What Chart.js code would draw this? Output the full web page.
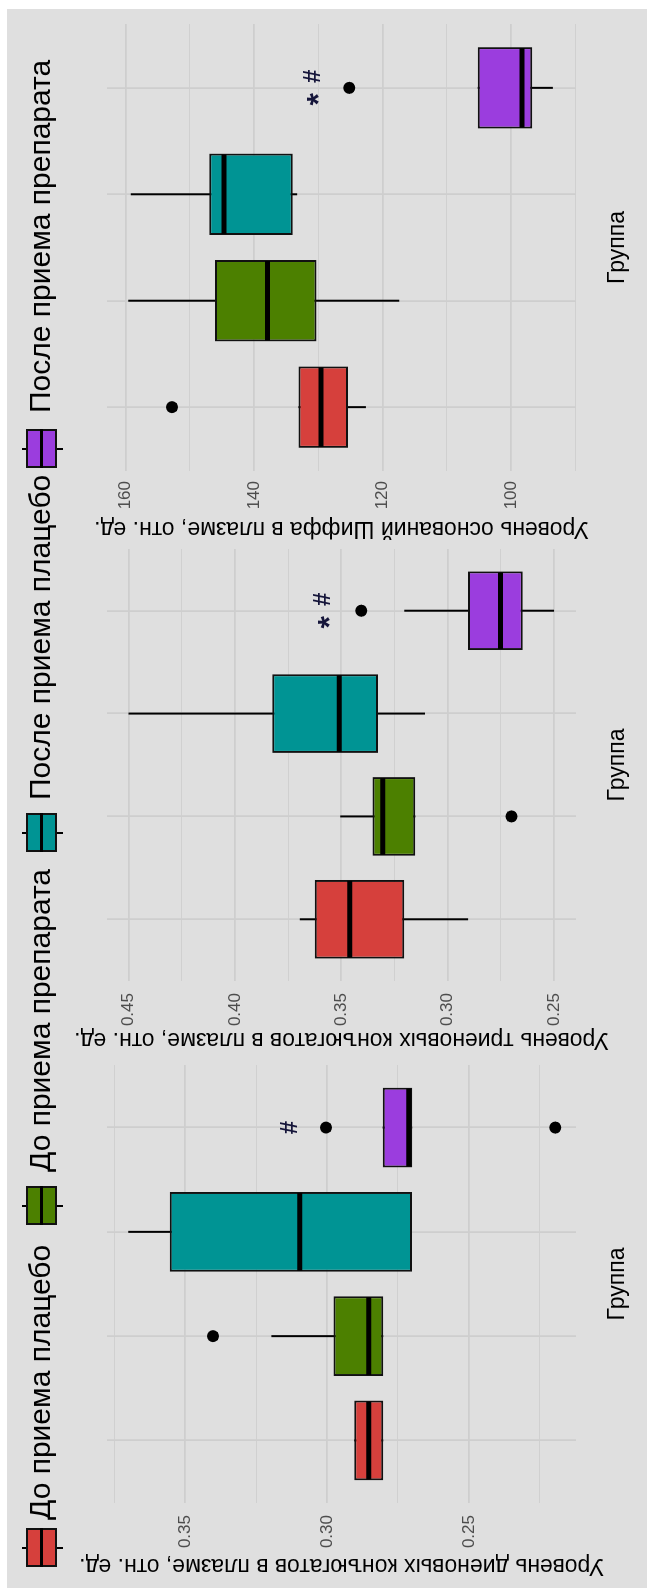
<!DOCTYPE html>
<html>
<head>
<meta charset="utf-8">
<script src="https://cdn.jsdelivr.net/npm/chart.js@4.4.1/dist/chart.umd.min.js"></script>
<style>
  body { margin: 0; background: #fff; width: 647px; height: 1588px; overflow: hidden;
         font-family: "Liberation Sans", Arial, sans-serif; }
  /* the plot is laid out landscape and turned a quarter left */
  #plot { position: absolute; left: 0; top: 0; width: 1588px; height: 647px; background: #dfdfdf;
          transform-origin: 0 0; transform: translate(0px, 1588px) rotate(-90deg); }
  #plot canvas { position: absolute; top: 0; }
  .strip { position: absolute; background: #fff; }
  .key { position: absolute; top: 22px; width: 39px; height: 41px; }
  .key .wh { position: absolute; left: 18px; top: 0; width: 2px; height: 41px; background: #000; }
  .key .bx { position: absolute; left: 0; top: 4px; width: 39px; height: 31px; box-sizing: border-box;
             border: 2px solid #111; }
  .key .md { position: absolute; left: 0; top: 18px; width: 39px; height: 3px; background: #000; }
  .lab { position: absolute; top: 24px; font-size: 30px; line-height: 32px; white-space: nowrap; color: #000; }
</style>
</head>
<body>
<div id="plot">
  <div class="strip" style="left:0;top:0;width:1588px;height:7px"></div>
  <div class="strip" style="left:1579px;top:0;width:9px;height:647px"></div>
  <canvas id="dienChart" width="529" height="647" style="left:0px"></canvas>
  <canvas id="trienChart" width="516" height="647" style="left:529px"></canvas>
  <canvas id="schiffChart" width="543" height="647" style="left:1045px"></canvas>
</div>
<script>
// groups (same for all three panels)
const groups = ['До приема плацебо', 'До приема препарата', 'После приема плацебо', 'После приема препарата'];
const groupColors = ['#D6403C', '#4C8000', '#009494', '#9B3DDE'];

// diene conjugates
const dienLow  = [0.2802, 0.2802, 0.2701, 0.2700];
const dienQ1   = [0.2802, 0.2802, 0.2701, 0.2700];
const dienMed  = [0.2853, 0.2853, 0.3096, 0.2712];
const dienQ3   = [0.2904, 0.2977, 0.3554, 0.2804];
const dienHigh = [0.2904, 0.3196, 0.3700, 0.2804];
const dienOut  = [[2, 0.3402], [4, 0.3004], [4, 0.2196]];
const dienNotes = [[4, 0.3128, '#']];
const dienRange = [0.2123, 0.3775];
const dienTicks = [0.225, 0.25, 0.275, 0.30, 0.325, 0.35, 0.375];
const dienTickLabels = ['', '0.25', '', '0.30', '', '0.35', ''];

// triene conjugates
const trienLow  = [0.2904, 0.3152, 0.3107, 0.2500];
const trienQ1   = [0.3204, 0.3152, 0.3328, 0.2647];
const trienMed  = [0.3460, 0.3305, 0.3509, 0.2752];
const trienQ3   = [0.3625, 0.3353, 0.3825, 0.2904];
const trienHigh = [0.3695, 0.3505, 0.4500, 0.3204];
const trienOut  = [[2, 0.2700], [4, 0.3406]];
const trienNotes = [[4, 0.3582, '*#']];
const trienRange = [0.2397, 0.4601];
const trienTicks = [0.25, 0.275, 0.30, 0.325, 0.35, 0.375, 0.40, 0.425, 0.45];
const trienTickLabels = ['0.25', '', '0.30', '', '0.35', '', '0.40', '', '0.45'];

// Schiff bases
const schiffLow  = [122.6, 117.4, 133.3, 93.5];
const schiffQ1   = [125.4, 130.3, 134.0, 96.7];
const schiffMed  = [129.6, 137.9, 144.7, 98.3];
const schiffQ3   = [133.1, 146.1, 147.0, 105.2];
const schiffHigh = [133.1, 159.6, 159.2, 105.2];
const schiffOut  = [[1, 152.8], [4, 125.2]];
const schiffNotes = [[4, 130.8, '*#']];
const schiffRange = [89.9, 162.9];
const schiffTicks = [90, 100, 110, 120, 130, 140, 150, 160];
const schiffTickLabels = ['', '100', '', '120', '', '140', '', '160'];

Chart.defaults.font.family = '"Liberation Sans", Arial, sans-serif';

const gridColor = '#cecece';
const groupPos = groups.map((g, i) => i + 1);

// legend, drawn as plain html above the panels
const legendKeyX = [21, 363, 736, 1120];
const legendTextX = [68, 416, 788, 1175];
const plot = document.getElementById('plot');
groups.forEach((g, i) => {
    const key = document.createElement('div');
    key.className = 'key';
    key.style.left = legendKeyX[i] + 'px';
    key.innerHTML = '<div class="wh"></div><div class="bx" style="background:' + groupColors[i] +
                    '"></div><div class="md"></div>';
    plot.appendChild(key);
    const lab = document.createElement('div');
    lab.className = 'lab';
    lab.style.left = legendTextX[i] + 'px';
    lab.textContent = g;
    plot.appendChild(lab);
});

// whiskers behind the boxes, medians and marks on top
function boxParts(low, med, high, notes) {
    return {
        id: 'boxParts',
        beforeDatasetsDraw(chart) {
            const ctx = chart.ctx, y = chart.scales.y;
            const bars = chart.getDatasetMeta(0).data;
            ctx.save();
            ctx.strokeStyle = '#000';
            ctx.lineWidth = 2;
            bars.forEach((bar, i) => {
                ctx.beginPath();
                ctx.moveTo(bar.x, y.getPixelForValue(low[i]));
                ctx.lineTo(bar.x, y.getPixelForValue(high[i]));
                ctx.stroke();
            });
            ctx.restore();
        },
        afterDatasetsDraw(chart) {
            const ctx = chart.ctx, x = chart.scales.x, y = chart.scales.y;
            const bars = chart.getDatasetMeta(0).data;
            ctx.save();
            ctx.strokeStyle = '#000';
            ctx.lineWidth = 5;
            bars.forEach((bar, i) => {
                const py = y.getPixelForValue(med[i]);
                ctx.beginPath();
                ctx.moveTo(bar.x - bar.width / 2 + 1, py);
                ctx.lineTo(bar.x + bar.width / 2 - 1, py);
                ctx.stroke();
            });
            ctx.fillStyle = '#15153a';
            ctx.textAlign = 'center';
            ctx.textBaseline = 'middle';
            notes.forEach(n => {
                const px = x.getPixelForValue(n[0]);
                const py = y.getPixelForValue(n[1]);
                const chars = n[2].split('');
                chars.forEach((c, k) => {
                    const cx = px + (k - (chars.length - 1) / 2) * 23;
                    if (c === '*') {
                        ctx.font = 'bold 32px "Liberation Sans"';
                        ctx.fillText(c, cx, py + 7);
                    } else {
                        ctx.font = 'bold 24px "Liberation Sans"';
                        ctx.fillText(c, cx, py);
                    }
                });
            });
            ctx.restore();
        }
    };
}

function makePanel(id, p) {
    new Chart(document.getElementById(id), {
        type: 'bar',
        data: {
            datasets: [{
                label: 'box',
                data: groupPos.map((gx, i) => ({ x: gx, y: [p.q1[i], p.q3[i]] })),
                backgroundColor: groupColors,
                borderColor: '#111',
                borderWidth: 2,
                borderSkipped: false,
                barPercentage: 0.765,
                categoryPercentage: 1
            }, {
                type: 'scatter',
                label: 'outliers',
                data: p.out.map(o => ({ x: o[0], y: o[1] })),
                pointRadius: 6,
                pointBackgroundColor: '#000',
                pointBorderWidth: 0
            }]
        },
        options: {
            responsive: false,
            animation: false,
            devicePixelRatio: 1,
            layout: { padding: { top: 107, right: p.padRight, bottom: 0, left: 0 } },
            plugins: { legend: { display: false }, tooltip: { enabled: false } },
            scales: {
                x: {
                    type: 'linear', min: 0.4, max: 4.6, offset: false,
                    afterBuildTicks: s => { s.ticks = groupPos.map(v => ({ value: v })); },
                    afterFit: s => { s.height = 71; },
                    ticks: { display: false },
                    grid: { color: gridColor, lineWidth: 1.8, offset: false, drawTicks: false },
                    border: { display: false },
                    title: { display: true, text: 'Группа', color: '#000', font: { size: 23 },
                             padding: { top: 0, bottom: 16 } }
                },
                y: {
                    min: p.range[0], max: p.range[1],
                    afterBuildTicks: s => { s.ticks = p.ticks.map(v => ({ value: v })); },
                    afterFit: s => { s.width = p.axisW; },
                    ticks: { autoSkip: false, padding: p.tickPad, color: '#4d4d4d', font: { size: 17 },
                             callback: (v, i) => p.tickLabels[i] },
                    grid: { color: gridColor, drawTicks: false,
                            lineWidth: c => (p.tickLabels[c.index] ? 1.8 : 0.9) },
                    border: { display: false },
                    title: { display: true, text: p.title, color: '#000', font: { size: 23 },
                             padding: { top: p.titlePad, bottom: 0 } }
                }
            }
        },
        plugins: [boxParts(p.low, p.med, p.high, p.notes)]
    });
}

makePanel('dienChart', {
    q1: dienQ1, q3: dienQ3, low: dienLow, med: dienMed, high: dienHigh, out: dienOut, notes: dienNotes,
    range: dienRange, ticks: dienTicks, tickLabels: dienTickLabels,
    title: 'Уровень диеновых конъюгатов в плазме, отн. ед.',
    axisW: 85, padRight: 3, titlePad: 9, tickPad: 12
});
makePanel('trienChart', {
    q1: trienQ1, q3: trienQ3, low: trienLow, med: trienMed, high: trienHigh, out: trienOut, notes: trienNotes,
    range: trienRange, ticks: trienTicks, tickLabels: trienTickLabels,
    title: 'Уровень триеновых конъюгатов в плазме, отн. ед.',
    axisW: 78, padRight: 3, titlePad: 6, tickPad: 12
});
makePanel('schiffChart', {
    q1: schiffQ1, q3: schiffQ3, low: schiffLow, med: schiffMed, high: schiffHigh, out: schiffOut, notes: schiffNotes,
    range: schiffRange, ticks: schiffTicks, tickLabels: schiffTickLabels,
    title: 'Уровень оснований Шиффа в плазме, отн. ед.',
    axisW: 72, padRight: 24, titlePad: 1, tickPad: 10
});
</script>
</body>
</html>
